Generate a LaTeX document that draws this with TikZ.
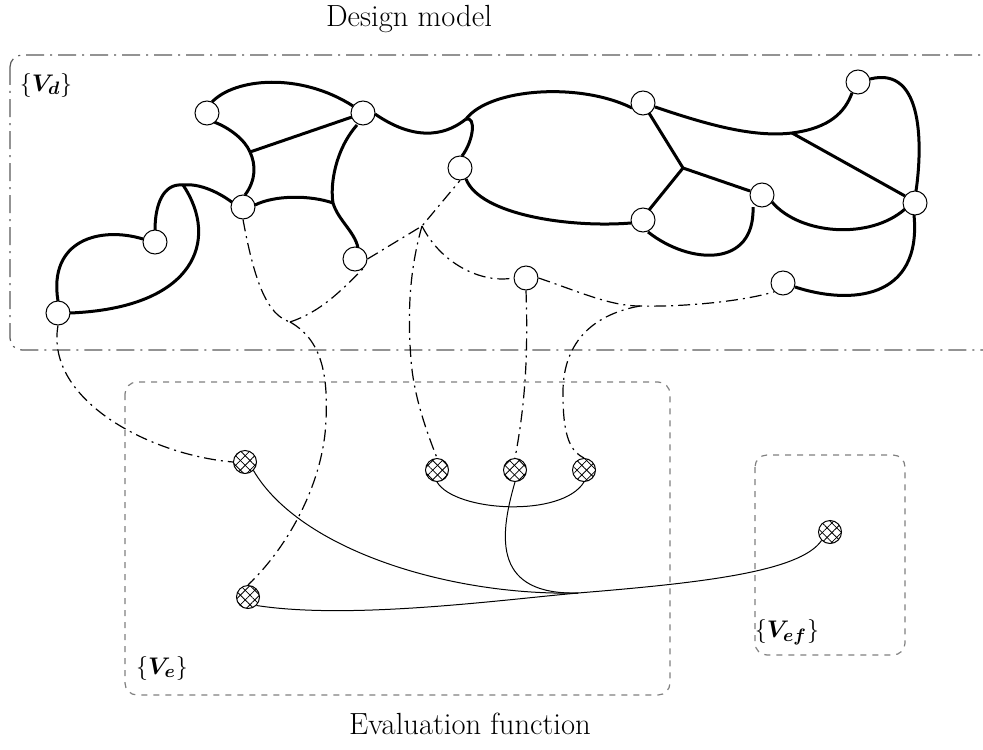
\documentclass[tikz,border=0pt]{standalone}
\usepackage{amsmath}
\usepackage{amssymb}
\usepackage{tikz}
\usetikzlibrary{patterns.meta}

\tikzset{
  sommet/.style={circle,draw,fill=white,inner sep=0pt,minimum size=12pt,line width=0.5pt},
  evalnd/.style={circle,draw,inner sep=0pt,minimum size=11.5pt,line width=0.5pt,
    preaction={pattern={Lines[angle=45,distance=3.4pt,line width=0.4pt]}},
    pattern={Lines[angle=-45,distance=3.4pt,line width=0.4pt]}},
  arete/.style={line width=1.5pt},
  lien/.style={line width=0.6pt,dash pattern=on 6pt off 2.5pt on 1pt off 2.5pt},
  fil/.style={line width=0.5pt},
  cadre/.style={draw=gray,line width=0.6pt,rounded corners=6pt},
  titre/.style={font=\fontsize{15.3}{17}\selectfont},
  etiq/.style={font=\fontsize{12.5}{14}\selectfont}
}

\begin{document}
\begin{tikzpicture}[x=0.5pt,y=-0.5pt]
  \useasboundingbox (0,0) rectangle (983,749);

  % Cadres
  \draw[cadre,draw=gray!70!black,dash pattern=on 9pt off 3pt on 1pt off 3pt] (10,55) rectangle (1010,350);
  \draw[cadre,dashed] (125,382) rectangle (670,695);
  \draw[cadre,dashed] (755,455) rectangle (905,655);

  % Textes
  \node[titre] (titreD) at (409,19) {Design model};
  \node[titre] (titreE) at (470,724) {Evaluation function};
  \node[etiq] (lVd) at (46,85) {$\{\boldsymbol{V_d}\}$};
  \node[etiq] (lVe) at (162,668) {$\{\boldsymbol{V_e}\}$};
  \node[etiq] (lVef) at (787,632) {$\{\boldsymbol{V_{ef}}\}$};

  % Points de jonction
  \coordinate (P1) at (183,185);
  \coordinate (Q1) at (250,152);
  \coordinate (R1) at (333,203);
  \coordinate (S1) at (466,119);
  \coordinate (T1) at (683,168);
  \coordinate (U1) at (792,133);
  \coordinate (W1) at (290,322);
  \coordinate (K1) at (422,226);
  \coordinate (V1) at (640,306);
  \coordinate (Y1) at (578,593);

  % Arêtes du modèle de conception
  \draw[arete] (58,301) .. controls (48,240) and (100,226) .. (143,239);
  \draw[arete] (70,313) .. controls (195,308) and (220,240) .. (P1);
  \draw[arete] (155,230) .. controls (155,205) and (163,183) .. (P1);
  \draw[arete] (P1) .. controls (200,183) and (220,193) .. (233,203);
  \draw[arete] (245,195) .. controls (256,180) and (256,165) .. (Q1);
  \draw[arete] (Q1) .. controls (245,140) and (230,128) .. (214,122);
  \draw[arete] (Q1) -- (352,117);
  \draw[arete] (212,102) .. controls (235,78) and (300,72) .. (353,106);
  \draw[arete] (255,205) .. controls (275,195) and (310,195) .. (R1);
  \draw[arete] (357,125) .. controls (335,150) and (330,185) .. (R1);
  \draw[arete] (R1) .. controls (338,220) and (355,232) .. (358,248);
  \draw[arete] (375,114) .. controls (420,145) and (450,132) .. (S1);
  \draw[arete] (S1) .. controls (476,116) and (474,140) .. (462,156);
  \draw[arete] (S1) .. controls (490,88) and (580,82) .. (632,108);
  \draw[arete] (466,179) .. controls (480,215) and (570,228) .. (631,223);
  \draw[arete] (649,113) -- (T1);
  \draw[arete] (T1) -- (649,210);
  \draw[arete] (T1) -- (750,191);
  \draw[arete] (648,232) .. controls (690,265) and (755,268) .. (753,207);
  \draw[arete] (772,202) .. controls (800,235) and (870,240) .. (905,209);
  \draw[arete] (655,107) .. controls (700,122) and (750,138) .. (U1);
  \draw[arete] (U1) .. controls (830,128) and (845,112) .. (852,93);
  \draw[arete] (U1) -- (905,196);
  \draw[arete] (870,79) .. controls (925,65) and (922,150) .. (916,191);
  \draw[arete] (914,215) .. controls (922,300) and (850,305) .. (795,287);

  % Sommets du modèle de conception
  \node[sommet] (A) at (58,313) {};
  \node[sommet] (B) at (155,242) {};
  \node[sommet] (C) at (207,113) {};
  \node[sommet] (D) at (243,207) {};
  \node[sommet] (E) at (363,113) {};
  \node[sommet] (F) at (355,259) {};
  \node[sommet] (G) at (460,168) {};
  \node[sommet] (H) at (643,103) {};
  \node[sommet] (I) at (643,220) {};
  \node[sommet] (J) at (762,195) {};
  \node[sommet] (K) at (858,82) {};
  \node[sommet] (L) at (915,203) {};
  \node[sommet] (M) at (526,278) {};
  \node[sommet] (N) at (783,283) {};

  % Sommets de la fonction d'évaluation
  \node[evalnd] (X1) at (245,462) {};
  \node[evalnd] (X2) at (248,597) {};
  \node[evalnd] (X3) at (437,470) {};
  \node[evalnd] (X4) at (515,470) {};
  \node[evalnd] (X5) at (584,470) {};
  \node[evalnd] (X6) at (830,532) {};

  % Liens entre modèle et évaluation
  \draw[lien] (A.south) .. controls (45,400) and (150,455) .. (X1.west);
  \draw[lien] (D.south) .. controls (255,285) and (268,315) .. (W1);
  \draw[lien] (W1) .. controls (320,312) and (340,292) .. (F.south east);
  \draw[lien] (W1) .. controls (322,340) and (328,375) .. (326,420)
    .. controls (324,480) and (290,545) .. (X2.north);
  \draw[lien] (F.east) -- (K1) -- (G.south);
  \draw[lien] (K1) .. controls (408,275) and (408,320) .. (411,360)
    .. controls (414,400) and (430,440) .. (X3.north);
  \draw[lien] (K1) .. controls (440,262) and (480,284) .. (M.west);
  \draw[lien] (M.east) .. controls (580,292) and (610,306) .. (V1)
    .. controls (680,307) and (740,302) .. (N.south west);
  \draw[lien] (V1) .. controls (590,315) and (562,345) .. (563,395)
    .. controls (563,440) and (572,452) .. (X5.north);
  \draw[lien] (M.south) .. controls (528,350) and (526,400) .. (X4.north);

  % Arêtes de la fonction d'évaluation
  \draw[fil] (X1.south east) .. controls (300,550) and (450,596) .. (Y1);
  \draw[fil] (X2.south east) .. controls (350,620) and (500,600) .. (Y1);
  \draw[fil] (X4.south) .. controls (498,540) and (495,595) .. (Y1);
  \draw[fil] (Y1) .. controls (700,583) and (800,572) .. (X6.south west);
  \draw[fil] (X3.south) .. controls (455,512) and (562,518) .. (X5.south);
\end{tikzpicture}
\end{document}
